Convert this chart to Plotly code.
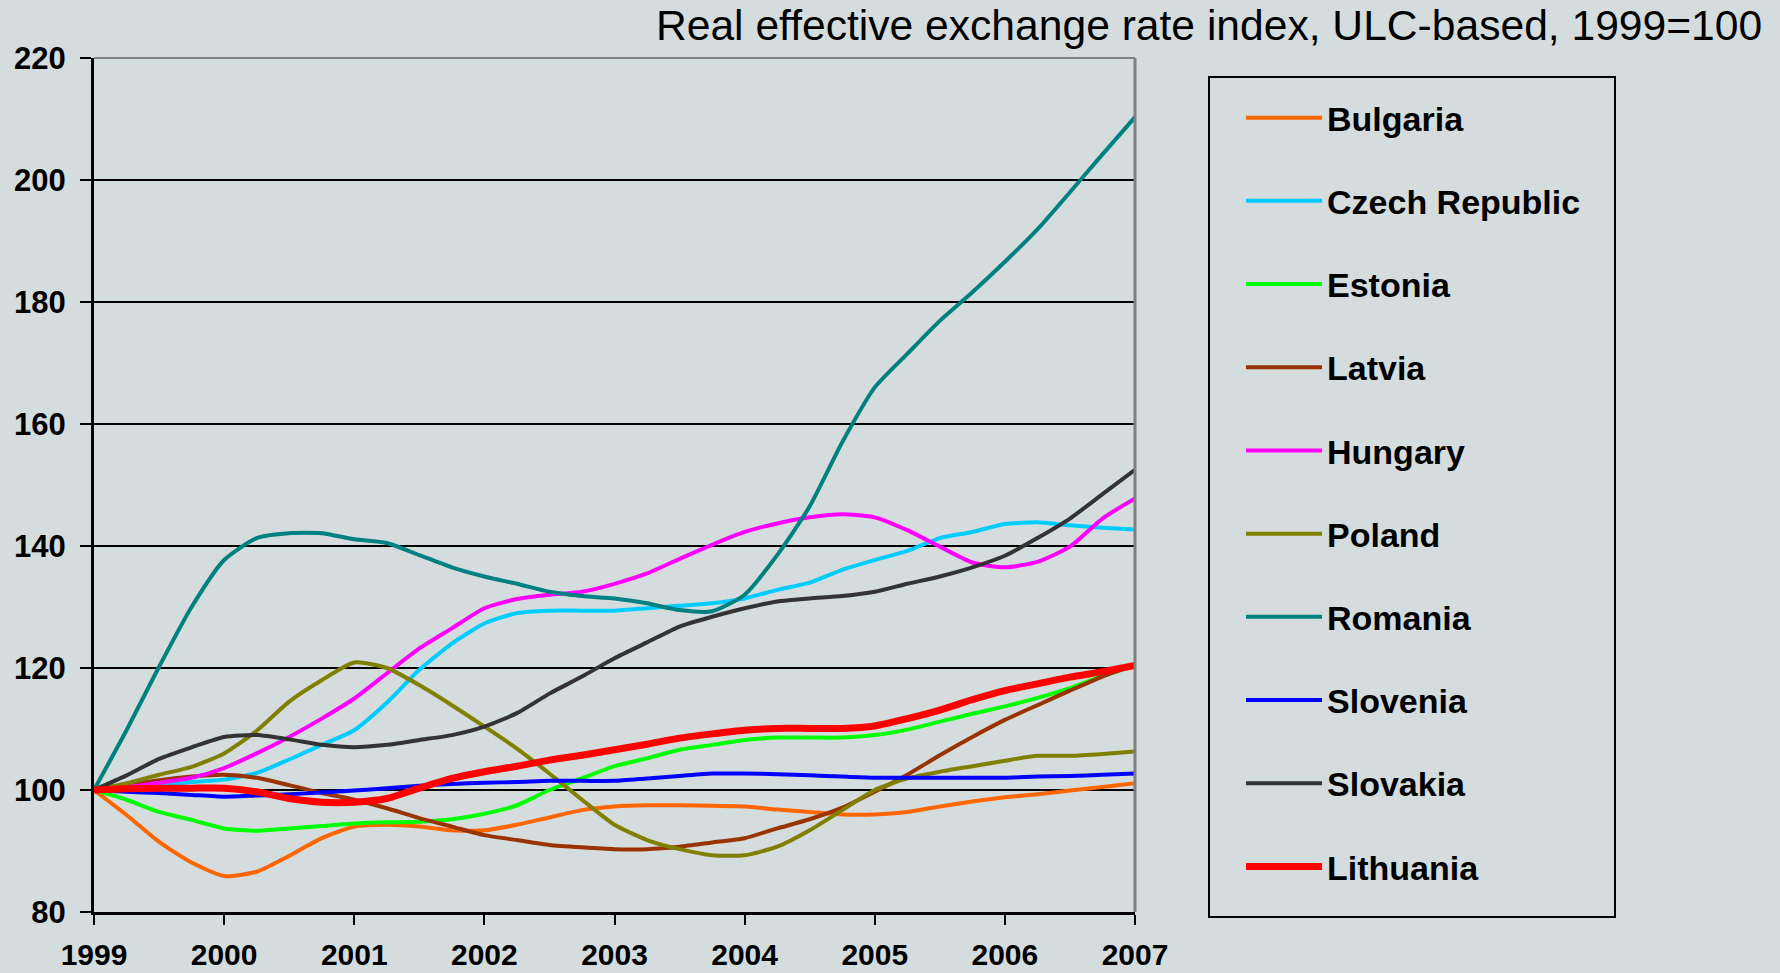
import plotly.graph_objects as go

# Quarterly observations, 1999Q1 .. 2007Q1
quarters = [1999 + i / 4 for i in range(33)]
year_ticks = [1999, 2000, 2001, 2002, 2003, 2004, 2005, 2006, 2007]

bulgaria = [100, 95.9, 91.5, 88.1, 85.9, 86.6, 89.2, 92.1, 94.0, 94.3, 94.0,
            93.4, 93.4, 94.3, 95.5, 96.7, 97.3, 97.5, 97.5, 97.4, 97.3, 96.8,
            96.4, 96.0, 96.0, 96.4, 97.3, 98.1, 98.8, 99.3, 99.9, 100.5, 101.1]
czech = [100, 100.3, 100.7, 101.3, 101.7, 102.8, 105.0, 107.4, 109.8, 114.3,
         119.7, 124.0, 127.3, 129.0, 129.4, 129.4, 129.4, 129.8, 130.2, 130.6,
         131.4, 132.8, 134.0, 136.1, 137.7, 139.2, 141.3, 142.3, 143.6, 143.9,
         143.4, 143.0, 142.7]
estonia = [100, 98.4, 96.4, 95.1, 93.7, 93.3, 93.7, 94.1, 94.5, 94.7, 94.8,
           95.2, 96.1, 97.5, 100.0, 101.9, 103.9, 105.2, 106.6, 107.4, 108.2,
           108.6, 108.6, 108.6, 109.0, 109.9, 111.2, 112.5, 113.7, 115.1, 116.7,
           118.7, 120.4]
latvia = [100, 100.8, 101.6, 102.2, 102.5, 102.0, 100.8, 99.5, 98.4, 97.0, 95.4,
          94.0, 92.6, 91.8, 91.0, 90.6, 90.3, 90.3, 90.7, 91.4, 92.1, 93.7, 95.2,
          97.1, 99.7, 102.5, 105.7, 108.7, 111.5, 113.9, 116.3, 118.6, 120.5]
hungary = [100, 100.5, 101.2, 102.0, 103.6, 106.0, 108.7, 111.7, 115.0, 119.1,
           123.2, 126.5, 129.8, 131.3, 132.0, 132.5, 133.8, 135.5, 137.9, 140.2,
           142.3, 143.7, 144.7, 145.2, 144.7, 142.6, 139.9, 137.3, 136.5, 137.4,
           139.9, 144.5, 147.8]
poland = [100, 101.1, 102.5, 103.8, 106.0, 109.7, 114.5, 118.0, 120.9, 120.0,
          117.2, 113.9, 110.4, 106.8, 102.7, 98.4, 94.3, 91.8, 90.3, 89.3, 89.3,
          90.7, 93.4, 96.7, 100.0, 101.9, 103.0, 103.9, 104.8, 105.6, 105.6,
          105.9, 106.3]
romania = [100, 109.8, 120.2, 130.0, 137.7, 141.3, 142.1, 142.1, 141.1, 140.5,
           138.5, 136.5, 135.0, 133.8, 132.5, 131.8, 131.4, 130.6, 129.5, 129.3,
           132.0, 138.5, 146.5, 157.0, 166.0, 171.5, 176.9, 181.6, 186.6, 191.9,
           198.0, 204.2, 210.3]
slovenia = [100, 99.7, 99.5, 99.2, 98.9, 99.1, 99.3, 99.6, 99.9, 100.3, 100.7,
            101.0, 101.2, 101.3, 101.5, 101.5, 101.5, 101.9, 102.3, 102.7, 102.7,
            102.6, 102.4, 102.2, 102.0, 102.0, 102.0, 102.0, 102.0, 102.2, 102.3,
            102.5, 102.7]
slovakia = [100, 102.4, 105.1, 107.0, 108.7, 109.0, 108.3, 107.4, 107.0, 107.4,
            108.2, 109.0, 110.4, 112.6, 115.8, 118.6, 121.6, 124.2, 126.8, 128.4,
            129.8, 130.9, 131.4, 131.8, 132.5, 133.8, 135.0, 136.5, 138.4, 141.3,
            144.5, 148.5, 152.5]
lithuania = [100, 100.2, 100.3, 100.3, 100.3, 99.7, 98.6, 98.0, 98.0, 98.6, 100.3,
             101.9, 103.0, 103.9, 104.9, 105.7, 106.6, 107.5, 108.5, 109.2, 109.8,
             110.1, 110.1, 110.1, 110.5, 111.7, 113.1, 114.8, 116.3, 117.4, 118.5,
             119.4, 120.4]

# (name, values, colour, width) in legend / drawing order
SERIES = [
    ("Bulgaria", bulgaria, "#ff6600", 4),
    ("Czech Republic", czech, "#00ccff", 4),
    ("Estonia", estonia, "#00ff00", 4),
    ("Latvia", latvia, "#993300", 4),
    ("Hungary", hungary, "#ff00ff", 4),
    ("Poland", poland, "#808000", 4),
    ("Romania", romania, "#008080", 4),
    ("Slovenia", slovenia, "#0000ff", 4),
    ("Slovakia", slovakia, "#333333", 4),
    ("Lithuania", lithuania, "#ff0000", 7),
]

BG = "#d4dcdd"
FONT = "Liberation Sans, Arial, sans-serif"

fig = go.Figure()

for name, values, color, width in SERIES:
    fig.add_trace(go.Scatter(
        x=quarters,
        y=values,
        mode="lines",
        name=name,
        legendgroup=name,
        line=dict(color=color, width=width, shape="spline", smoothing=0.6),
    ))

# top and right frame edges are grey in the original
fig.add_shape(type="line", xref="paper", yref="paper", x0=0, x1=1, y0=1, y1=1,
              line=dict(color="#808080", width=2))
fig.add_shape(type="line", xref="paper", yref="paper", x0=1, x1=1, y0=0, y1=1,
              line=dict(color="#808080", width=3))
# legend frame (drawn separately so the legend can sit inset from it)
fig.add_shape(type="rect", xref="paper", yref="paper",
              x0=1.0711, x1=1.4611, y0=-0.0059, y1=0.9778,
              line=dict(color="black", width=2), fillcolor="rgba(0,0,0,0)")

fig.update_layout(
    width=1780,
    height=973,
    paper_bgcolor=BG,
    plot_bgcolor=BG,
    font=dict(family=FONT, color="black"),
    margin=dict(l=94, r=645, t=58, b=61, autoexpand=False),
    title=dict(
        text="Real effective exchange rate index, ULC-based, 1999=100",
        x=0.99, xanchor="right", xref="container",
        y=0.974, yanchor="middle", yref="container",
        font=dict(size=42.6, family=FONT, color="black"),
    ),
    xaxis=dict(
        range=[1999, 2007],
        tickvals=year_ticks,
        ticktext=[str(y) for y in year_ticks],
        ticks="outside", ticklen=10, tickwidth=2, tickcolor="black",
        showline=True, linecolor="black", linewidth=3,
        showgrid=False, zeroline=False, automargin=False,
        ticklabelstandoff=4,
        tickfont=dict(size=30, family=FONT, weight="bold"),
    ),
    xaxis2=dict(
        overlaying="x", anchor="y", side="bottom",
        range=[1999, 2007],
        tickvals=year_ticks,
        ticks="inside", ticklen=10, tickwidth=2, tickcolor="black",
        showticklabels=False, showline=False, showgrid=False, zeroline=False,
        automargin=False,
    ),
    yaxis=dict(
        range=[80, 220],
        dtick=20,
        ticks="outside", ticklen=11, tickwidth=2, tickcolor="black",
        showline=True, linecolor="black", linewidth=3,
        showgrid=True, gridcolor="black", gridwidth=2, zeroline=False,
        automargin=False,
        ticklabelstandoff=8,
        tickfont=dict(size=31, family=FONT, weight="bold"),
    ),
    legend=dict(
        xref="container", yref="container",
        x=0.6972, xanchor="left",
        y=0.9085, yanchor="top",
        bgcolor="rgba(0,0,0,0)",
        borderwidth=0,
        maxheight=900,
        font=dict(size=34, family=FONT, weight="bold", color="black"),
        itemwidth=76,
        tracegroupgap=36,
        traceorder="grouped",
    ),
)

fig.write_html(
    "out.html",
    config={"displayModeBar": False},
    post_script="document.body.style.margin='0';",
)
